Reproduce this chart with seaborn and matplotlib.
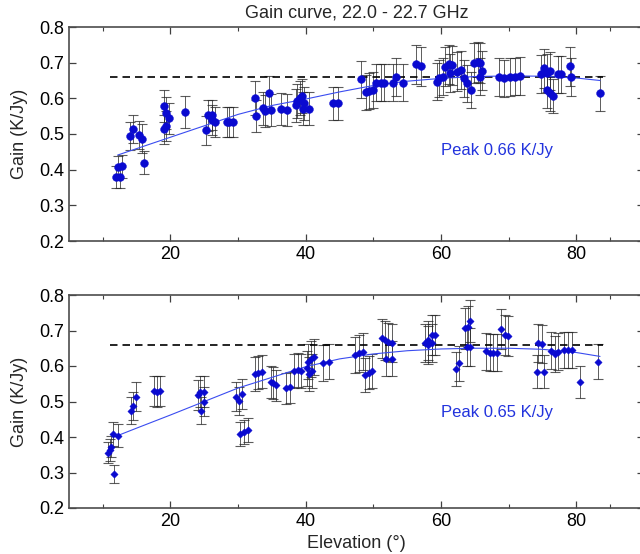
import numpy as np
import pandas as pd
import matplotlib
matplotlib.use("Agg")
import matplotlib.pyplot as plt
import seaborn as sns
from matplotlib.ticker import MultipleLocator, FixedLocator

sns.set_theme(style="white")
plt.rcParams['font.family'] = ['Liberation Sans', 'DejaVu Sans']

# ---------------- data: top panel ----------------
top_elev = [11.9, 12.6, 12.2, 12.8, 14.0, 14.4, 15.4, 15.8, 16.1, 19.0,
            19.1, 19.4, 19.85, 19.3, 22.2, 25.3, 25.5, 26.1, 26.1, 26.6,
            28.3, 28.7, 29.2, 32.5, 32.7, 33.7, 34.6, 34.0, 34.9, 36.4,
            37.2, 38.5, 38.7, 39.1, 39.4, 39.7, 39.6, 40.5, 44.0, 44.8,
            48.2, 48.9, 49.4, 49.9, 50.4, 51.1, 51.6, 52.9, 53.3, 54.3,
            56.3, 57.0, 59.4, 59.7, 60.3, 60.6, 61.1, 61.6, 61.3, 62.3,
            63.0, 63.4, 63.8, 64.4, 64.8, 65.4, 65.8, 65.7, 66.1, 68.6,
            69.3, 70.2, 70.9, 71.6, 74.7, 75.2, 75.7, 76.1, 75.6, 76.1,
            76.5, 77.3, 77.8, 79.1, 79.2, 83.5]
top_gain = [0.380, 0.380, 0.407, 0.410, 0.494, 0.514, 0.497, 0.487, 0.420, 0.513,
            0.578, 0.560, 0.544, 0.522, 0.561, 0.510, 0.552, 0.553, 0.539, 0.534,
            0.534, 0.534, 0.534, 0.600, 0.550, 0.572, 0.614, 0.565, 0.567, 0.569,
            0.567, 0.580, 0.593, 0.600, 0.607, 0.586, 0.571, 0.571, 0.586, 0.586,
            0.654, 0.617, 0.621, 0.623, 0.644, 0.644, 0.644, 0.644, 0.659, 0.644,
            0.695, 0.690, 0.647, 0.656, 0.661, 0.689, 0.695, 0.693, 0.670, 0.675,
            0.680, 0.656, 0.642, 0.623, 0.698, 0.703, 0.698, 0.661, 0.678, 0.659,
            0.656, 0.659, 0.661, 0.663, 0.668, 0.684, 0.670, 0.677, 0.623, 0.614,
            0.607, 0.667, 0.667, 0.690, 0.659, 0.614]
top_err = [0.030, 0.030, 0.032, 0.032, 0.040, 0.040, 0.040, 0.040, 0.033, 0.040,
           0.045, 0.045, 0.043, 0.042, 0.045, 0.040, 0.043, 0.043, 0.043, 0.043,
           0.043, 0.043, 0.043, 0.048, 0.044, 0.046, 0.048, 0.045, 0.045, 0.045,
           0.045, 0.046, 0.047, 0.048, 0.048, 0.047, 0.046, 0.046, 0.047, 0.047,
           0.052, 0.049, 0.050, 0.050, 0.051, 0.051, 0.051, 0.051, 0.053, 0.051,
           0.055, 0.055, 0.052, 0.052, 0.053, 0.055, 0.055, 0.055, 0.053, 0.054,
           0.054, 0.052, 0.051, 0.050, 0.056, 0.056, 0.056, 0.053, 0.054, 0.053,
           0.052, 0.053, 0.053, 0.053, 0.053, 0.055, 0.053, 0.054, 0.050, 0.049,
           0.048, 0.053, 0.053, 0.055, 0.053, 0.050]
top_fit_elev = [12.2, 15, 20, 25, 30, 35, 40, 45, 50, 55, 60, 65, 70, 75, 80, 83.5]
top_fit_gain = [0.441, 0.459, 0.491, 0.523, 0.555, 0.580, 0.598, 0.618, 0.636,
                0.648, 0.656, 0.661, 0.663, 0.662, 0.657, 0.650]

# ---------------- data: bottom panel ----------------
bot_elev = [10.75, 11.0, 11.25, 11.44, 12.2, 11.7, 14.2, 14.5, 14.9, 17.6,
            18.0, 18.5, 24.0, 24.4, 24.9, 24.5, 25.0, 29.7, 30.1, 30.6,
            30.3, 30.9, 31.4, 32.5, 33.0, 33.5, 34.8, 35.2, 35.6, 37.1,
            37.7, 38.2, 38.8, 39.3, 40.2, 40.4, 40.8, 41.2, 40.5, 40.9,
            42.6, 43.4, 47.3, 47.8, 48.4, 48.8, 49.3, 49.8, 51.2, 51.7,
            52.2, 52.7, 51.8, 52.7, 57.6, 58.1, 58.6, 59.1, 58.1, 58.6,
            62.2, 62.7, 63.5, 64.0, 64.3, 63.9, 64.3, 66.7, 67.2, 67.7,
            68.2, 68.9, 69.4, 69.9, 74.4, 74.9, 74.2, 75.2, 76.3, 76.8,
            77.3, 78.2, 78.8, 79.4, 80.6, 83.2]
bot_gain = [0.356, 0.363, 0.373, 0.408, 0.404, 0.296, 0.474, 0.487, 0.514, 0.530,
            0.528, 0.530, 0.518, 0.528, 0.528, 0.474, 0.500, 0.514, 0.501, 0.521,
            0.408, 0.415, 0.420, 0.577, 0.581, 0.584, 0.556, 0.551, 0.546, 0.537,
            0.540, 0.587, 0.589, 0.587, 0.593, 0.612, 0.620, 0.625, 0.577, 0.587,
            0.609, 0.612, 0.631, 0.636, 0.640, 0.575, 0.581, 0.586, 0.678, 0.673,
            0.668, 0.664, 0.621, 0.621, 0.664, 0.673, 0.687, 0.687, 0.659, 0.664,
            0.591, 0.608, 0.706, 0.711, 0.727, 0.654, 0.653, 0.642, 0.637, 0.637,
            0.637, 0.704, 0.687, 0.684, 0.664, 0.662, 0.584, 0.584, 0.643, 0.634,
            0.640, 0.645, 0.645, 0.645, 0.556, 0.612]
bot_err = [0.030, 0.030, 0.030, 0.033, 0.033, 0.025, 0.038, 0.040, 0.042, 0.043,
           0.043, 0.043, 0.042, 0.043, 0.043, 0.038, 0.040, 0.042, 0.040, 0.042,
           0.033, 0.034, 0.034, 0.047, 0.047, 0.047, 0.045, 0.045, 0.044, 0.044,
           0.044, 0.048, 0.048, 0.048, 0.048, 0.050, 0.050, 0.051, 0.047, 0.048,
           0.050, 0.050, 0.051, 0.052, 0.052, 0.047, 0.047, 0.048, 0.055, 0.055,
           0.054, 0.054, 0.050, 0.050, 0.054, 0.055, 0.056, 0.056, 0.054, 0.054,
           0.048, 0.049, 0.057, 0.058, 0.059, 0.053, 0.053, 0.052, 0.052, 0.052,
           0.052, 0.057, 0.056, 0.056, 0.054, 0.054, 0.047, 0.047, 0.052, 0.051,
           0.052, 0.052, 0.052, 0.052, 0.045, 0.050]
bot_fit_elev = [12.2, 15, 20, 25, 30, 35, 40, 45, 50, 55, 60, 65, 70, 75, 80, 83.5]
bot_fit_gain = [0.404, 0.425, 0.462, 0.500, 0.538, 0.568, 0.598, 0.620, 0.634,
                0.643, 0.648, 0.650, 0.650, 0.647, 0.638, 0.627]

ref_level = 0.66
ref_span = [11.0, 84.0]
x_major = [20, 40, 60, 80]
x_minor = [10, 30, 50, 70, 85]
title = "Gain curve, 22.0 - 22.7 GHz"
ylab = "Gain (K/Jy)"
xlab = "Elevation (°)"
peak_top = "Peak 0.66 K/Jy"
peak_bot = "Peak 0.65 K/Jy"

W, H = 640, 554
fig = plt.figure(figsize=(W / 100, H / 100), dpi=100)
ax1 = fig.add_axes([69 / W, 1 - 241 / H, 575 / W, 214 / H])
ax2 = fig.add_axes([69 / W, 1 - 508 / H, 575 / W, 213 / H])

PT_COL = '#0a0ad0'
FIT_COL = '#3a4cf0'


def draw(ax, elev, gain, err, fx, fy, marker, size, peak, peak_y):
    df = pd.DataFrame({'elev': elev, 'gain': gain, 'err': err})
    ax.errorbar(df['elev'], df['gain'], yerr=df['err'], fmt='none',
                ecolor='0.15', elinewidth=0.7, capsize=3.8, capthick=0.8,
                alpha=0.75, zorder=2)
    ax.hlines(ref_level, ref_span[0], ref_span[1], colors='black',
              linestyles=(0, (4.5, 3)), lw=1.2, zorder=3)
    sns.lineplot(x=fx, y=fy, ax=ax, color=FIT_COL, lw=0.8, sort=True,
                 zorder=4, errorbar=None)
    sns.scatterplot(data=df, x='elev', y='gain', ax=ax, marker=marker,
                    s=size, color=PT_COL, edgecolor=PT_COL, linewidth=0.3,
                    zorder=5, legend=False)
    ax.text(60, peak_y, peak, color='#2233dd', fontsize=12, va='center',
            ha='left')
    ax.set_xlim(5, 90)
    ax.set_ylim(0.2, 0.8)
    ax.xaxis.set_major_locator(FixedLocator(x_major))
    ax.xaxis.set_minor_locator(FixedLocator(x_minor))
    ax.yaxis.set_major_locator(MultipleLocator(0.1))
    ax.tick_params(which='both', direction='in', top=True, right=True,
                   bottom=True, left=True, colors='0.25', labelcolor='black',
                   labelsize=13)
    ax.tick_params(which='major', length=5, width=0.9)
    ax.tick_params(which='minor', length=3, width=0.8)
    for s in ax.spines.values():
        s.set_color('0.3')
        s.set_linewidth(1.2)
    ax.set_xlabel('')
    ax.set_ylabel(ylab, fontsize=13)
    ax.yaxis.set_label_coords(-0.072, 0.5)
    ax.grid(False)


draw(ax1, top_elev, top_gain, top_err, top_fit_elev, top_fit_gain, 'o', 32,
     peak_top, 0.455)
draw(ax2, bot_elev, bot_gain, bot_err, bot_fit_elev, bot_fit_gain, 'D', 14,
     peak_bot, 0.47)

ax2.set_xlabel(xlab, fontsize=13, labelpad=4)
fig.text(356.5 / W, 1 - 13 / H, title, ha='center', va='center', fontsize=13)

fig.savefig('out.png', dpi=100)
